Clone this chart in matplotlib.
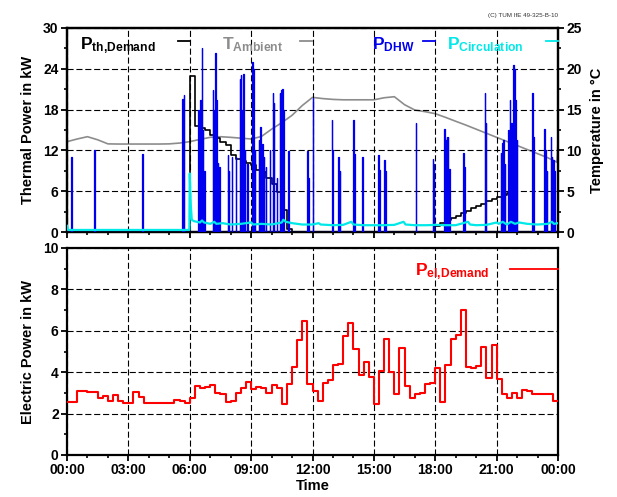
import numpy as np
import matplotlib
matplotlib.use('Agg')
import matplotlib.pyplot as plt

plt.rcParams['font.family'] = 'Liberation Sans'
plt.rcParams['font.weight'] = 'bold'
plt.rcParams['axes.labelweight'] = 'bold'
plt.rcParams['mathtext.fontset'] = 'custom'
plt.rcParams['mathtext.rm'] = 'Liberation Sans:bold'
plt.rcParams['mathtext.bf'] = 'Liberation Sans:bold'
plt.rcParams['mathtext.it'] = 'Liberation Sans:bold'

########################################
# data (time in hours)

time_ticks = [0, 3, 6, 9, 12, 15, 18, 21, 24]
time_labels = ['00:00', '03:00', '06:00', '09:00', '12:00', '15:00', '18:00', '21:00', '00:00']

# thermal demand (step), kW
th_hours = [0, 6.0, 6.25, 6.5, 6.75, 7.0, 7.25, 7.5, 7.75, 8.0, 8.25, 8.5, 8.75, 9.0,
            9.25, 9.5, 9.75, 10.0, 10.25, 10.5, 10.75, 11.0,
            18.0, 18.25, 18.5, 18.75, 19.0, 19.25, 19.5, 19.75, 20.0, 20.25, 20.5,
            20.75, 21.0, 21.25, 21.5, 21.75, 22.0, 24.0]
th_demand = [0, 23.0, 15.6, 15.3, 15.0, 14.3, 13.8, 13.3, 12.8, 11.3, 10.8, 10.5, 10.2, 9.8,
             9.1, 8.8, 7.9, 7.0, 5.9, 3.2, 0.5, 0,
             0.9, 1.3, 1.7, 2.1, 2.4, 2.75, 3.1, 3.5, 3.8, 4.1, 4.5,
             4.8, 5.1, 5.4, 5.7, 6.05, 0, 0]

# ambient temperature, degC
amb_hours = [0, 0.5, 1.0, 1.5, 2.0, 2.5, 3.0, 3.5, 4.0, 4.5, 5.0, 5.5, 6.0, 6.5, 7.0, 7.5,
             8.0, 8.5, 9.0, 9.5, 10.0, 10.5, 11.0, 11.5, 12.0, 12.5, 13.0, 13.5, 14.0,
             14.5, 15.0, 15.5, 16.0, 16.5, 17.0, 17.5, 18.0, 18.5, 19.0, 19.5, 20.0,
             20.5, 21.0, 21.5, 22.0, 22.5, 23.0, 23.5, 23.95, 24.0]
t_ambient = [11.07, 11.4, 11.68, 11.3, 10.8, 10.78, 10.78, 10.78, 10.78, 10.78, 10.8, 10.9,
             11.07, 11.35, 11.6, 11.68, 11.6, 11.5, 11.4, 11.7, 12.6, 13.4, 14.3, 15.5,
             16.5, 16.35, 16.25, 16.2, 16.2, 16.2, 16.2, 16.45, 16.58, 15.6, 14.95, 14.75,
             14.5, 14.05, 13.57, 13.1, 12.6, 12.1, 11.6, 11.1, 10.6, 10.1, 9.6, 9.1, 8.55, 11.07]

# domestic hot water draw-offs: start hour and height in kW
dhw_hours = [0.2, 1.32, 3.67, 5.64, 5.7,
             6.42, 6.47, 6.52, 6.58, 6.63, 6.7,
             7.12, 7.17, 7.25, 7.3, 7.38, 7.45, 7.85, 7.9, 8.05, 8.25,
             8.45, 8.5, 8.55, 8.62, 8.68, 8.8,
             9.05, 9.1, 9.18, 9.38, 9.45, 9.55, 9.62, 9.72, 9.9,
             10.05, 10.1, 10.25, 10.4, 10.47, 10.53, 10.58, 10.82,
             11.75, 11.8,
             12.0, 12.93, 12.97, 13.27, 13.32, 14.0, 14.04, 14.42, 14.46,
             15.22, 15.26, 15.5, 15.55, 17.04, 17.87, 17.92,
             18.44, 18.5, 18.56, 18.62, 18.68, 19.37, 19.42, 20.43, 20.48,
             21.2, 21.27, 21.33, 21.4, 21.57, 21.64, 21.72, 21.8, 21.86, 21.92, 21.98,
             22.74, 22.8, 23.32, 23.38, 23.45, 23.64, 23.7, 23.76, 23.82]
dhw_power = [11.1, 12.0, 11.4, 19.5, 20.1,
             17.9, 12.0, 19.4, 27.0, 15.0, 9.0,
             20.9, 18.0, 26.3, 19.4, 10.1, 9.5, 11.3, 9.0, 11.0, 11.0,
             22.5, 23.1, 18.0, 23.3, 12.0, 10.0,
             25.0, 24.0, 12.0, 13.5, 15.5, 13.0, 11.0, 9.6, 12.1,
             20.4, 19.0, 8.0, 20.5, 20.9, 21.0, 18.0, 11.9,
             11.9, 8.0,
             19.7, 16.5, 12.0, 11.0, 9.0, 16.5, 11.5, 11.0, 8.5,
             11.3, 9.1, 10.6, 9.0, 16.0, 10.8, 10.0,
             15.2, 13.5, 14.0, 14.0, 9.3, 11.6, 9.5, 20.5, 16.0,
             11.6, 13.1, 13.5, 10.0, 15.0, 19.4, 16.0, 24.6, 24.0, 19.4, 13.5,
             20.5, 14.0, 15.1, 12.0, 9.0, 14.0, 11.0, 10.6, 9.0]

# circulation losses, kW
circ_hours = [0, 0.05, 0.15, 5.98, 6.0, 6.05, 6.1, 6.2, 6.5, 6.6, 6.7, 7.0, 7.2, 7.3, 7.6,
              8.0, 8.5, 9.0, 9.1, 9.5, 10.0, 10.5, 10.57, 10.7, 11.0, 11.5, 12.0, 12.3,
              12.4, 13.0, 13.5, 13.9, 14.0, 14.5, 15.0, 15.5, 16.0, 16.45, 16.55, 17.0,
              17.6, 18.0, 18.5, 19.0, 19.6, 19.7, 20.0, 20.5, 21.0, 21.1, 21.3, 21.5,
              21.7, 21.9, 22.1, 22.5, 23.0, 23.5, 23.7, 23.8, 24.0]
circ_power = [0.9, 0.3, 0.3, 0.3, 8.6, 4.0, 1.8, 1.6, 1.4, 1.7, 1.4, 1.2, 1.5, 1.2, 1.3,
              1.1, 1.2, 1.4, 1.1, 1.2, 1.1, 1.4, 1.8, 1.5, 1.3, 1.1, 1.1, 1.3,
              1.1, 1.0, 1.05, 1.5, 1.1, 1.0, 1.0, 1.0, 1.05, 1.5, 1.1, 1.0,
              1.0, 1.05, 1.0, 1.0, 1.5, 1.1, 1.0, 1.05, 1.4, 1.2, 1.5, 1.1,
              1.5, 1.2, 1.4, 1.2, 1.1, 1.2, 1.5, 1.2, 1.3]

# electric demand, 15 min values from 00:00, kW
el_demand = [2.55, 2.55, 3.07, 3.07, 3.05, 3.05, 2.74, 2.84, 2.63, 2.91, 2.62, 2.53,
             2.53, 3.04, 2.8, 2.5, 2.5, 2.5, 2.5, 2.5, 2.5, 2.66, 2.63, 2.49,
             2.77, 3.35, 3.25, 3.3, 3.4, 3.0, 2.94, 2.55, 2.63, 3.0, 3.25, 3.55,
             3.2, 3.3, 3.22, 3.0, 3.4, 3.23, 2.48, 3.42, 4.26, 5.54, 6.49, 3.42,
             3.07, 2.6, 3.5, 3.61, 4.35, 4.4, 5.74, 6.4, 5.13, 3.86, 4.48, 3.79,
             2.48, 4.07, 5.59, 4.02, 2.93, 5.16, 3.32, 2.76, 2.93, 3.0, 3.42, 3.5,
             4.18, 2.56, 4.33, 5.59, 5.82, 7.0, 4.23, 4.2, 4.28, 5.24, 3.71, 5.33,
             3.66, 2.93, 2.76, 3.0, 2.73, 3.15, 3.07, 2.93, 2.93, 2.95, 2.95, 2.6]

########################################
# plotting

BLUE = '#0000ee'
CYAN = '#00e8e8'
GRAY = '#8c8c8c'
RED = '#ff0000'
DASH = (0, (5.5, 2.5))

fig = plt.figure(figsize=(6.17, 4.97), dpi=100)
ax1 = fig.add_axes([67/617, 1-232/497, 491/617, 204/497])
ax3 = fig.add_axes([67/617, 1-455/497, 491/617, 207/497])
ax2 = ax1.twinx()
# temperature line behind the power lines
ax2.set_zorder(ax1.get_zorder() - 1)
ax1.patch.set_visible(False)

# pulse shaped draw-offs
w = 0.025
xs, ys = [0], [0]
for t, p in sorted(zip(dhw_hours, dhw_power)):
    xs += [t, t, t + w, t + w]
    ys += [0, p, p, 0]
xs += [24]
ys += [0]

ax1.step(th_hours, th_demand, where='post', color='k', lw=1.2, zorder=3)
ax1.plot(xs, ys, color=BLUE, lw=0.9, zorder=4)
ax1.plot(circ_hours, circ_power, color=CYAN, lw=1.6, zorder=5)
ax2.plot(amb_hours, t_ambient, color=GRAY, lw=1.2)

el_t = np.arange(len(el_demand) + 1) * 0.25
ax3.step(el_t, el_demand + [el_demand[-1]], where='post', color=RED, lw=1.5, zorder=3)

for ax in (ax1, ax3):
    ax.set_xlim(0, 24)
    ax.set_xticks(time_ticks)
    ax.set_xticks(np.arange(0, 25, 1), minor=True)
    ax.grid(True, which='major', color='k', lw=0.8, linestyle=DASH)
    ax.tick_params(which='major', direction='out', length=4, width=1.3, labelsize=10, pad=2)
    ax.tick_params(which='minor', direction='out', length=2.5, width=1.2)
    for s in ax.spines.values():
        s.set_linewidth(1.6)

ax1.set_ylim(0, 30)
ax1.set_yticks([0, 6, 12, 18, 24, 30])
ax1.set_yticks(np.arange(0, 31, 3), minor=True)
ax1.set_xticklabels([])
ax1.set_ylabel('Thermal Power in kW', fontsize=10.5, labelpad=6)

ax2.set_ylim(0, 25)
ax2.set_yticks([0, 5, 10, 15, 20, 25])
ax2.set_yticks(np.arange(0, 26, 2.5), minor=True)
ax2.tick_params(which='major', direction='out', length=4, width=1.3, labelsize=10, pad=2)
ax2.tick_params(which='minor', direction='out', length=2.5, width=1.2)
ax2.set_ylabel('Temperature in °C', fontsize=10.5, labelpad=6)
for s in ax2.spines.values():
    s.set_linewidth(1.6)

ax3.set_ylim(0, 10)
ax3.set_yticks([0, 2, 4, 6, 8, 10])
ax3.set_yticks(np.arange(0, 11, 1), minor=True)
ax3.set_xticklabels(time_labels)
ax3.set_ylabel('Electric Power in kW', fontsize=10.5, labelpad=6)
ax3.set_xlabel('Time', fontsize=10.5, labelpad=1)

# legend entries: text followed by a short line
entries = [(r'$\mathbf{P}_{\mathbf{th{,}Demand}}$', 'k', 0.026, (0.226, 0.251)),
           (r'$\mathbf{T}_{\mathbf{Ambient}}$', GRAY, 0.316, (0.475, 0.499)),
           (r'$\mathbf{P}_{\mathbf{DHW}}$', BLUE, 0.621, (0.725, 0.749)),
           (r'$\mathbf{P}_{\mathbf{Circulation}}$', CYAN, 0.774, (0.976, 1.0))]
for lab, col, xt, (xa, xb) in entries:
    ax1.text(xt, 0.897, lab, color=col, fontsize=12.5, transform=ax1.transAxes,
             va='baseline', ha='left', zorder=6)
    ax1.plot([xa, xb], [0.936, 0.936], color=col, lw=1.3, transform=ax1.transAxes,
             clip_on=False, zorder=6)

ax3.text(0.709, 0.870, r'$\mathbf{P}_{\mathbf{el{,}Demand}}$', color=RED, fontsize=12.5,
         transform=ax3.transAxes, va='baseline', ha='left', zorder=6)
ax3.plot([0.902, 1.0], [0.899, 0.899], color=RED, lw=1.3, transform=ax3.transAxes,
         clip_on=False, zorder=6)

fig.text(558/617, 1-16/497, '(C) TUM IfE 49-325-B-10', fontsize=4.5, ha='right', va='center',
         color='#333333', fontweight='normal')

fig.savefig('out.png', dpi=100)
